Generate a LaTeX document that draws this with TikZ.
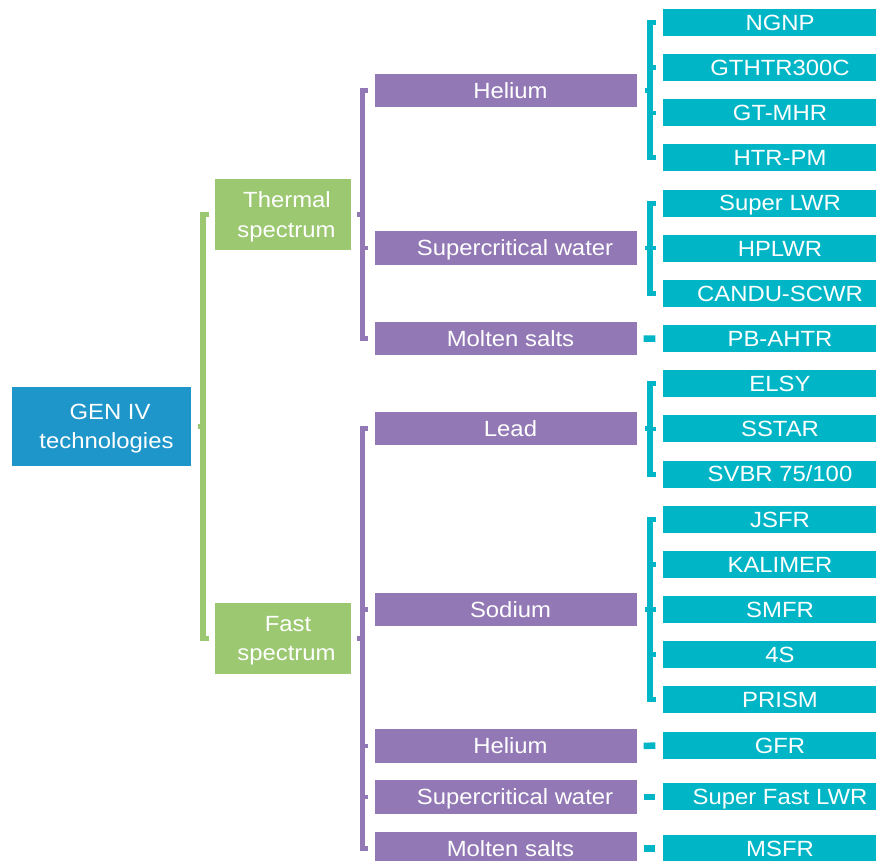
\documentclass[tikz,border=0pt]{standalone}
\usepackage{fontspec}
\setmainfont{Liberation Sans}[FakeStretch=1.085]
\usetikzlibrary{calc}
\definecolor{cBlue}{RGB}{30,150,202}
\definecolor{cGreen}{RGB}{155,200,113}
\definecolor{cPurple}{RGB}{146,121,181}
\definecolor{cCyan}{RGB}{0,182,198}
\newcommand{\mybracket}[5]{%
  \draw[#1, spine] (#2 |- #4.west) -- (#2 |- #5.west);
  \draw[#1, tick] ($(#2 |- #4.west)+(-2.75,0)$) -- ($(#2 |- #4.west)+(5.5,0)$);
  \draw[#1, tick] ($(#2 |- #5.west)+(-2.75,0)$) -- ($(#2 |- #5.west)+(5.5,0)$);
  \draw[#1, notch] (#2 |- #3.east) -- ($(#2 |- #3.east)+(-5.5,0)$);
}
\newcommand{\mytick}[3]{\draw[#1, notch] (#2 |- #3.west) -- ($(#2 |- #3.west)+(5.5,0)$);}
\begin{document}
\begin{tikzpicture}[x=1pt,y=-1pt,
  every node/.style={font=\fontsize{22}{29.5}\selectfont, text=white, inner sep=0pt},
  one/.style={text height=15.75pt, text depth=0pt},
  bluebox/.style={fill=cBlue, minimum width=179pt, minimum height=79pt, align=center, text depth=0pt},
  greenbox/.style={fill=cGreen, minimum width=136pt, minimum height=71pt, align=center, text depth=0pt},
  purplebox/.style={fill=cPurple, minimum width=262pt, minimum height=33.5pt, one},
  cyanbox/.style={fill=cCyan, minimum width=234pt, minimum height=27pt, one},
  spine/.style={line width=5.5pt},
  tick/.style={line width=5pt},
  notch/.style={line width=4.5pt},
  dashlink/.style={cCyan, line width=6.5pt}]
\clip (0,0) rectangle (876,861);
\fill[white] (0,0) rectangle (876,861);

% level 0 / 1
\node[bluebox] (gen) at (101,426.5) {\hspace*{18pt}GEN IV\\\hspace*{11pt}technologies};
\node[greenbox] (thermal) at (283,214.75) {\hspace*{8pt}Thermal\\\hspace*{7pt}spectrum};
\node[greenbox] (fast) at (283,638.5) {\hspace*{10pt}Fast\\\hspace*{7pt}spectrum};

% level 2
\node[purplebox] (heT) at (506,90.5) {\hspace*{9pt}Helium};
\node[purplebox] (scwT) at (506,248) {\hspace*{18pt}Supercritical water};
\node[purplebox] (msT) at (506,338.5) {\hspace*{9pt}Molten salts};
\node[purplebox] (lead) at (506,428.5) {\hspace*{9pt}Lead};
\node[purplebox] (sodium) at (506,609.5) {\hspace*{9pt}Sodium};
\node[purplebox] (heF) at (506,745.8) {\hspace*{9pt}Helium};
\node[purplebox] (scwF) at (506,796.8) {\hspace*{18pt}Supercritical water};
\node[purplebox] (msF) at (506,848.5) {\hspace*{9pt}Molten salts};

% level 3
\node[cyanbox] (ngnp) at (780,22.5) {NGNP};
\node[cyanbox] (gthtr) at (780,67.65) {GTHTR300C};
\node[cyanbox] (gtmhr) at (780,112.8) {GT-MHR};
\node[cyanbox] (htrpm) at (780,157.95) {HTR-PM};
\node[cyanbox] (slwr) at (780,203.1) {Super LWR};
\node[cyanbox] (hplwr) at (780,248.25) {HPLWR};
\node[cyanbox] (candu) at (780,293.4) {CANDU-SCWR};
\node[cyanbox] (pbahtr) at (780,338.55) {PB-AHTR};
\node[cyanbox] (elsy) at (780,383.7) {ELSY};
\node[cyanbox] (sstar) at (780,428.85) {SSTAR};
\node[cyanbox] (svbr) at (780,474.0) {SVBR 75/100};
\node[cyanbox] (jsfr) at (780,519.15) {JSFR};
\node[cyanbox] (kalimer) at (780,564.3) {KALIMER};
\node[cyanbox] (smfr) at (780,609.45) {SMFR};
\node[cyanbox] (fours) at (780,654.6) {4S};
\node[cyanbox] (prism) at (780,699.75) {PRISM};
\node[cyanbox] (gfr) at (780,745.7) {GFR};
\node[cyanbox] (sflwr) at (780,796.8) {Super Fast LWR};
\node[cyanbox] (msfr) at (780,848.5) {MSFR};

% bracket spines
\coordinate (gx) at (203,0);
\coordinate (px) at (362.5,0);
\coordinate (cx) at (650,0);

\mybracket{cGreen}{gx}{gen}{thermal}{fast}

\mybracket{cPurple}{px}{thermal}{heT}{msT}
\mytick{cPurple}{px}{scwT}

\mybracket{cPurple}{px}{fast}{lead}{msF}
\mytick{cPurple}{px}{sodium}
\mytick{cPurple}{px}{heF}
\mytick{cPurple}{px}{scwF}

\mybracket{cCyan}{cx}{heT}{ngnp}{htrpm}
\mytick{cCyan}{cx}{gthtr}
\mytick{cCyan}{cx}{gtmhr}

\mybracket{cCyan}{cx}{scwT}{slwr}{candu}
\mytick{cCyan}{cx}{hplwr}

\mybracket{cCyan}{cx}{lead}{elsy}{svbr}
\mytick{cCyan}{cx}{sstar}

\mybracket{cCyan}{cx}{sodium}{jsfr}{prism}
\mytick{cCyan}{cx}{kalimer}
\mytick{cCyan}{cx}{smfr}
\mytick{cCyan}{cx}{fours}

% single links
\draw[dashlink] ($(msT.east)+(6.5,0)$) -- ($(pbahtr.west)+(-7.5,0)$);
\draw[dashlink] ($(heF.east)+(6.5,0)$) -- ($(gfr.west)+(-7.5,0)$);
\draw[dashlink] ($(scwF.east)+(6.5,0)$) -- ($(sflwr.west)+(-7.5,0)$);
\draw[dashlink] ($(msF.east)+(6.5,0)$) -- ($(msfr.west)+(-7.5,0)$);
\end{tikzpicture}
\end{document}
